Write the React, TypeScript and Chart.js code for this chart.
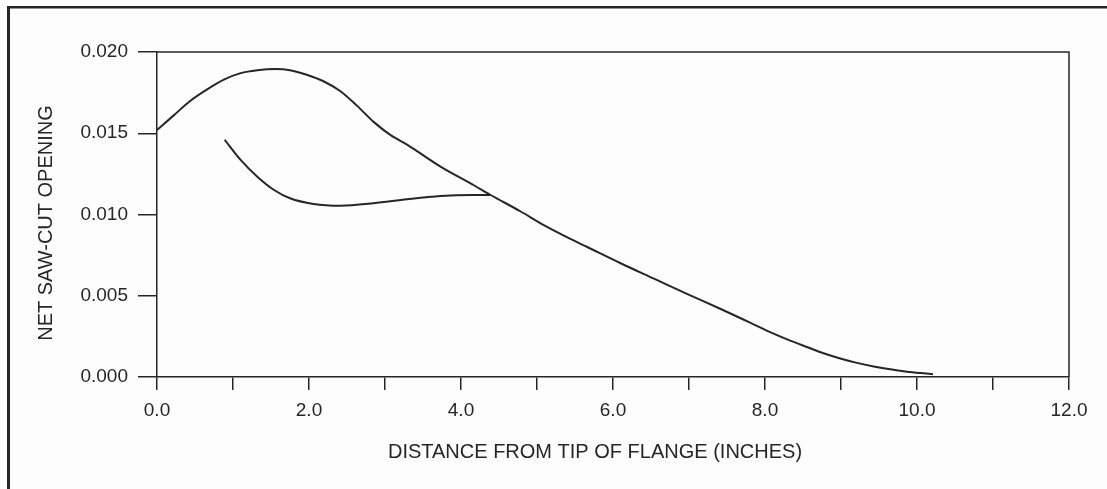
import React, { useEffect, useRef } from "react";
import { Chart, registerables } from "chart.js";

Chart.register(...registerables);

// Upper curve (single-branch response from tip of flange)
const upperX = [0, 0.22, 0.44, 0.66, 0.88, 1.1, 1.32, 1.56, 1.75, 1.97, 2.19, 2.41, 2.63, 2.85, 3.07, 3.29, 3.73, 4.17, 4.39, 4.78, 5.09, 5.44, 5.66, 6.1, 6.54, 6.98, 7.41, 7.81, 8.12, 8.34, 8.56, 8.77, 8.99, 9.21, 9.43, 9.65, 9.87, 10.05, 10.21];
const upperY = [0.0152, 0.0161, 0.017, 0.0177, 0.0183, 0.0187, 0.01888, 0.01895, 0.01888, 0.0186, 0.0182, 0.0176, 0.0167, 0.0157, 0.0149, 0.0143, 0.01295, 0.0118, 0.0112, 0.0102, 0.00935, 0.0085, 0.0080, 0.0070, 0.00605, 0.0051, 0.0042, 0.00333, 0.00265, 0.00222, 0.00183, 0.00146, 0.00114, 0.00087, 0.00065, 0.00047, 0.00033, 0.00024, 0.00017];

// Lower branch
const lowerX = [0.89, 1.1, 1.32, 1.54, 1.75, 2.06, 2.41, 2.85, 3.29, 3.73, 4.16, 4.39];
const lowerY = [0.0146, 0.01336, 0.01233, 0.01151, 0.011, 0.01065, 0.01054, 0.01069, 0.01094, 0.01114, 0.0112, 0.0112];

const xTitle = "DISTANCE FROM TIP OF FLANGE (INCHES)";
const yTitle = "NET SAW-CUT OPENING";
const xMin = 0, xMax = 12, xStep = 1;
const yMin = 0, yMax = 0.02, yStep = 0.005;

const INK = "#262626";
const FONT = "'Liberation Sans', Arial, sans-serif";

const framePlugin = {
  id: "frame",
  beforeDraw(chart: any) {
    const { ctx, width, height } = chart;
    ctx.save();
    ctx.fillStyle = "#fdfdfd";
    ctx.fillRect(0, 0, width, height);
    ctx.fillStyle = INK;
    ctx.fillRect(7, 6, width - 7, 2.5);
    ctx.fillRect(7, 6, 3, height - 6);
    ctx.restore();
  },
  afterDraw(chart: any) {
    const { ctx, chartArea: a } = chart;
    ctx.save();
    ctx.strokeStyle = INK;
    ctx.lineWidth = 1.5;
    ctx.beginPath();
    ctx.moveTo(a.left, a.top);
    ctx.lineTo(a.right, a.top);
    ctx.lineTo(a.right, a.bottom);
    ctx.stroke();
    ctx.fillStyle = INK;
    ctx.font = `20px ${FONT}`;
    ctx.textAlign = "center";
    ctx.textBaseline = "middle";
    ctx.fillText(xTitle, 595, 452);
    ctx.translate(46, 223);
    ctx.rotate(-Math.PI / 2);
    ctx.fillText(yTitle, 0, 0);
    ctx.restore();
  },
};

export default function App() {
  const ref = useRef<HTMLCanvasElement | null>(null);
  useEffect(() => {
    document.body.style.margin = "0";
    const toPts = (xs: number[], ys: number[]) => xs.map((x, i) => ({ x, y: ys[i] }));
    const chart = new Chart(ref.current as HTMLCanvasElement, {
      type: "line",
      data: {
        datasets: [
          {
            data: toPts(upperX, upperY),
            borderColor: INK,
            borderWidth: 2,
            pointRadius: 0,
            cubicInterpolationMode: "monotone",
            fill: false,
          },
          {
            data: toPts(lowerX, lowerY),
            borderColor: INK,
            borderWidth: 2,
            pointRadius: 0,
            cubicInterpolationMode: "monotone",
            fill: false,
          },
        ],
      },
      options: {
        animation: false,
        responsive: false,
        events: [],
        layout: { padding: { left: 0, top: 52, right: 38, bottom: 0 } },
        plugins: { legend: { display: false }, tooltip: { enabled: false }, title: { display: false } },
        scales: {
          x: {
            type: "linear",
            min: xMin,
            max: xMax,
            afterFit: (s: any) => { s.height = 112; },
            border: { display: true, color: INK, width: 1.5 },
            grid: { display: true, drawOnChartArea: false, drawTicks: true, tickLength: 13, color: INK, lineWidth: 1.5 },
            ticks: {
              stepSize: xStep,
              padding: 9,
              color: INK,
              font: { size: 19, family: FONT },
              maxRotation: 0,
              autoSkip: false,
              callback: (v: any) => (Math.round(v) % 2 === 0 ? Number(v).toFixed(1) : ""),
            },
          },
          y: {
            type: "linear",
            min: yMin,
            max: yMax,
            afterFit: (s: any) => { s.width = 157; },
            border: { display: true, color: INK, width: 1.5 },
            grid: { display: true, drawOnChartArea: false, drawTicks: true, tickLength: 19, color: INK, lineWidth: 1.5 },
            ticks: {
              stepSize: yStep,
              padding: 10,
              color: INK,
              font: { size: 19, family: FONT },
              callback: (v: any) => Number(v).toFixed(3),
            },
          },
        },
      },
      plugins: [framePlugin],
    } as any);
    return () => chart.destroy();
  }, []);
  return <canvas ref={ref} width={1107} height={489} style={{ display: "block" }} />;
}
